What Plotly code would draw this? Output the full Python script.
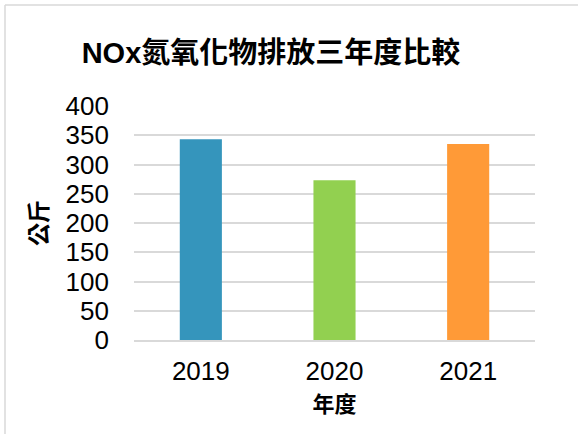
import plotly.graph_objects as go

years = ["2019", "2020", "2021"]
nox_kg = [343, 273, 335]
bar_colors = ["#3595BC", "#92D050", "#FF9A37"]

font_family = "Liberation Sans, Arial, Noto Sans CJK TC, sans-serif"

fig = go.Figure(go.Bar(x=years, y=nox_kg, marker_color=bar_colors, marker_line_width=0))

fig.update_layout(
    width=578, height=434,
    paper_bgcolor="white", plot_bgcolor="white",
    margin=dict(l=134, r=43, t=106, b=94),
    bargap=0.685,
    showlegend=False,
    font=dict(family=font_family, color="black"),
    title=dict(text="<b>NOx氮氧化物排放三年度比較</b>", x=271 / 578, xanchor="center",
               y=1 - 53 / 434, yanchor="middle", yref="container",
               font=dict(size=29, family=font_family)),
)
fig.update_yaxes(
    range=[0, 400], dtick=50, showgrid=True, gridcolor="#d9d9d9", gridwidth=1.5,
    zeroline=False, showline=False, ticks="", ticklabelstandoff=24, automargin=False,
    tickfont=dict(size=26),
    title=dict(text="<b>公斤</b>", font=dict(size=23, family="Noto Sans CJK TC"), standoff=11),
)
fig.update_xaxes(
    showline=True, linecolor="#d9d9d9", linewidth=1.5, ticks="", ticklabelstandoff=7,
    automargin=False, tickfont=dict(size=26),
    title=dict(text="<b>年度</b>", font=dict(size=22, family="Noto Sans CJK TC"), standoff=12),
)

# light chart-area border (left and top edges visible in the frame)
fig.add_shape(type="line", xref="paper", yref="paper",
              x0=(5 - 134) / 401, x1=3, y0=(340 - 5) / 234, y1=(340 - 5) / 234,
              line=dict(color="#d9d9d9", width=1.5))
fig.add_shape(type="line", xref="paper", yref="paper",
              x0=(5 - 134) / 401, x1=(5 - 134) / 401, y0=(340 - 5) / 234, y1=-3,
              line=dict(color="#d9d9d9", width=1.5))

# drop the browser's default 8px body margin so the figure sits at the window origin
fig.write_html("out.html", config={"displayModeBar": False},
               post_script="document.body.style.margin='0';")
